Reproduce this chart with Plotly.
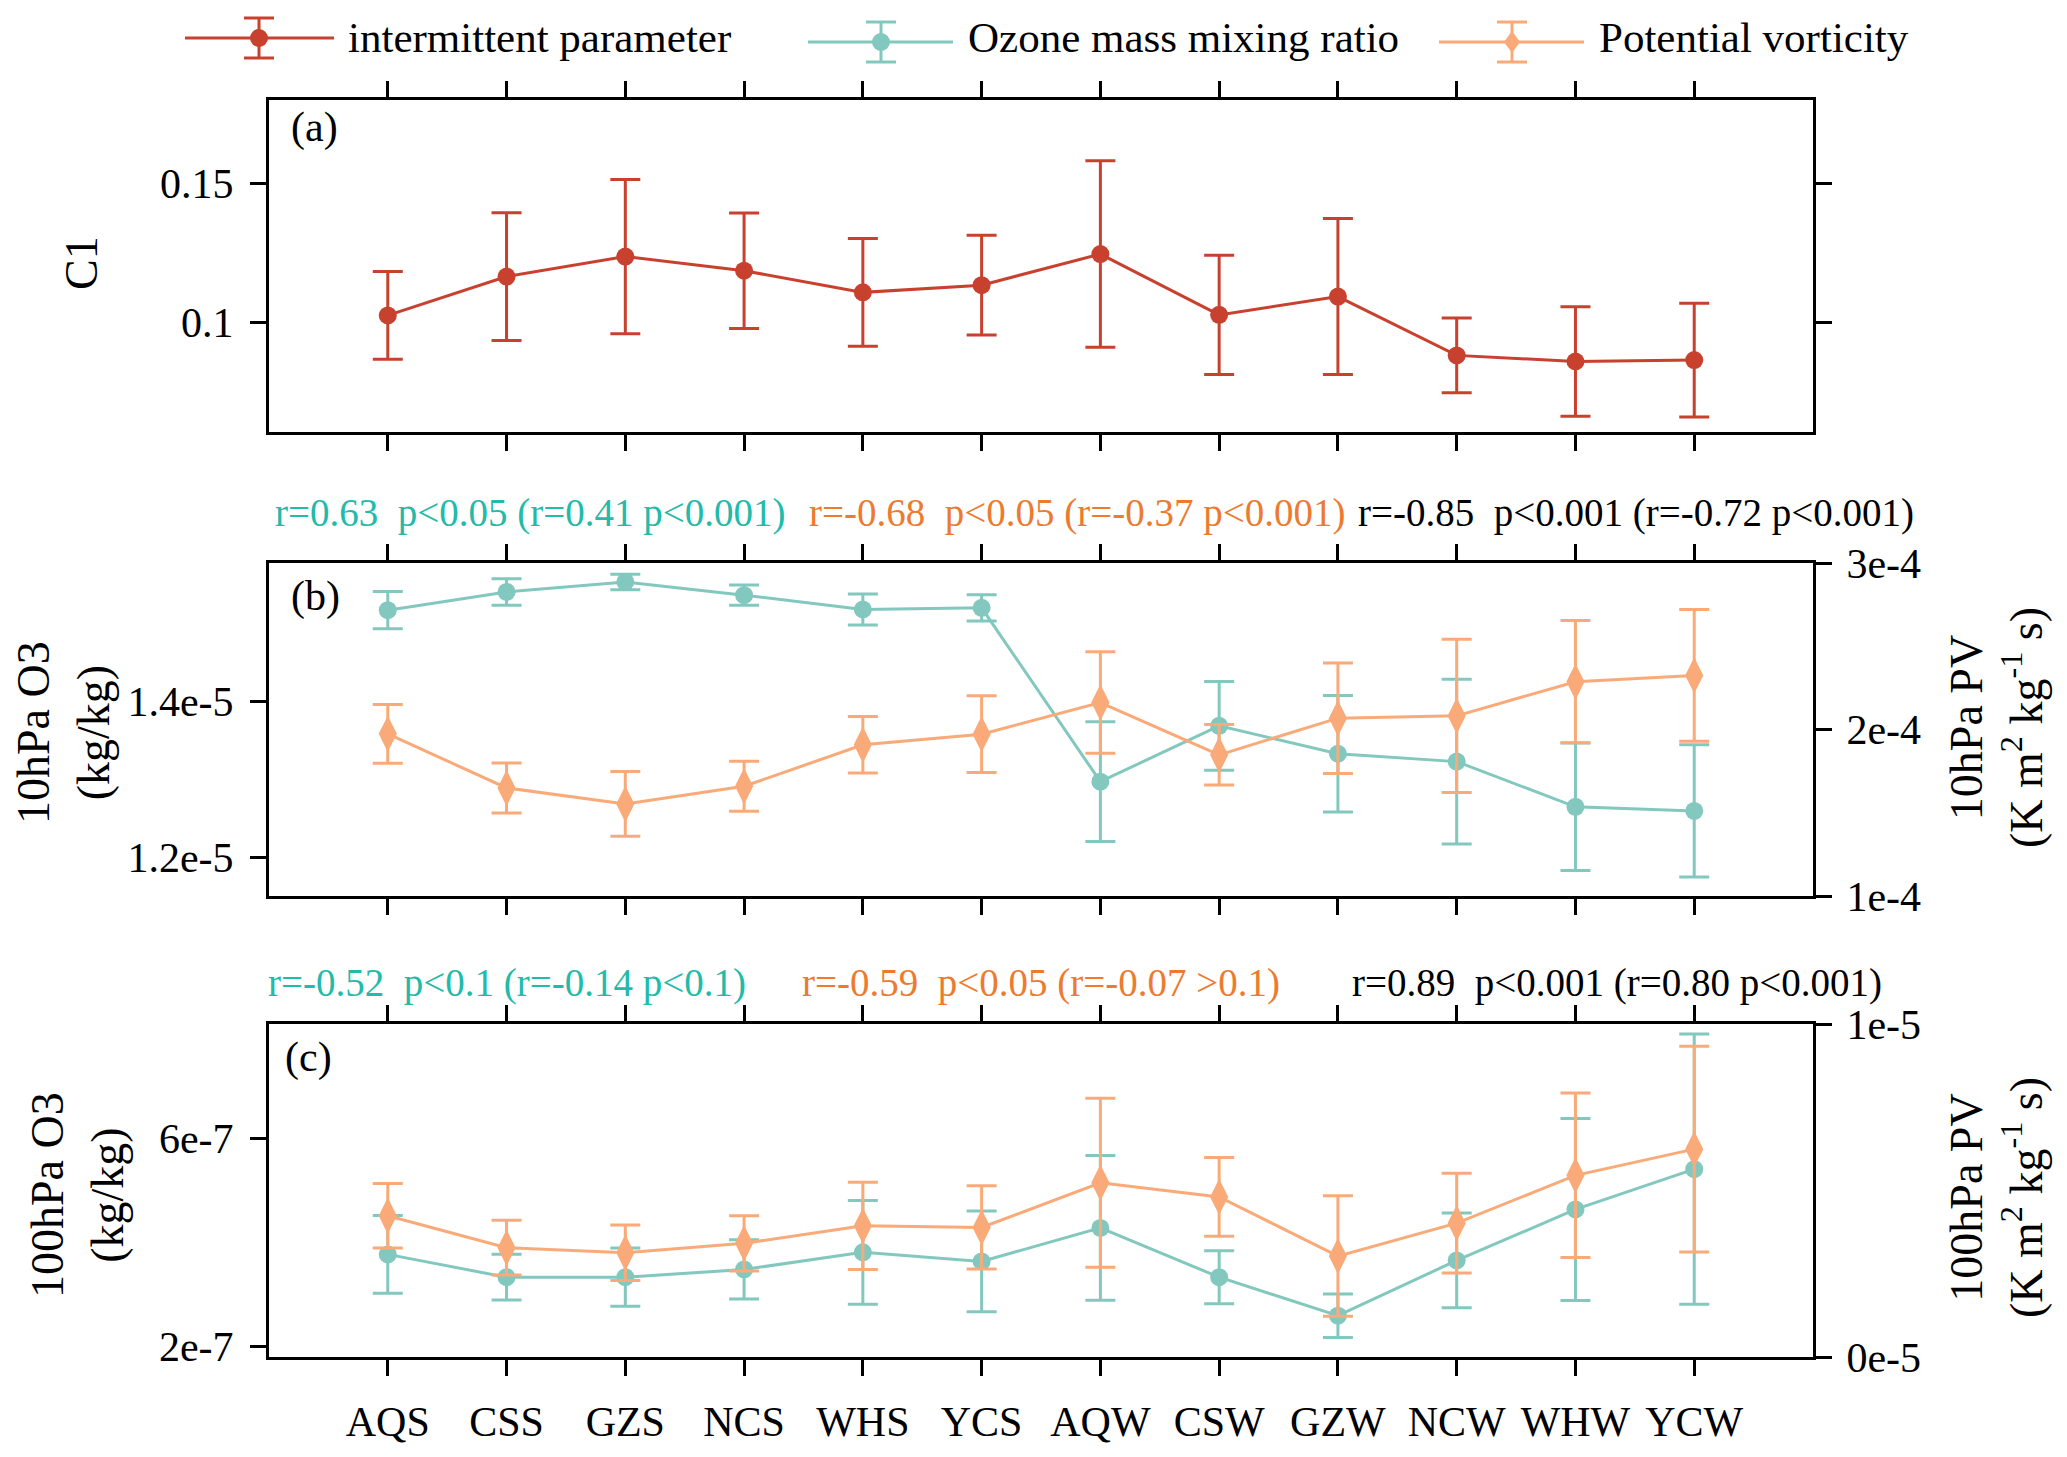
import plotly.graph_objects as go

W, H = 2067, 1457
OFF = 8                      # page body margin offset
FW, FH = W - OFF, H - OFF    # figure size so it fits the window
FONT = "Liberation Serif, Times New Roman, serif"

categories = ["AQS", "CSS", "GZS", "NCS", "WHS", "YCS",
              "AQW", "CSW", "GZW", "NCW", "WHW", "YCW"]

c1_mean = [0.1024, 0.1164, 0.1236, 0.1185, 0.1107, 0.1133,
           0.1245, 0.1026, 0.1092, 0.0880, 0.0858, 0.0863]
c1_err = [0.0158, 0.0230, 0.0278, 0.0208, 0.0194, 0.0180,
          0.0336, 0.0215, 0.0281, 0.0135, 0.0197, 0.0205]

o3_10_mean = [1.5175e-5, 1.5410e-5, 1.5538e-5, 1.5368e-5, 1.5184e-5, 1.5205e-5,
              1.2970e-5, 1.3688e-5, 1.3329e-5, 1.3228e-5, 1.2647e-5, 1.2594e-5]
o3_10_err = [0.24e-6, 0.17e-6, 0.10e-6, 0.13e-6, 0.20e-6, 0.17e-6,
             0.77e-6, 0.57e-6, 0.75e-6, 1.06e-6, 0.82e-6, 0.85e-6]

pv_10_mean = [1.974e-4, 1.649e-4, 1.553e-4, 1.659e-4, 1.908e-4, 1.972e-4,
              2.162e-4, 1.848e-4, 2.068e-4, 2.082e-4, 2.287e-4, 2.325e-4]
pv_10_err = [0.176e-4, 0.150e-4, 0.194e-4, 0.150e-4, 0.170e-4, 0.230e-4,
             0.305e-4, 0.182e-4, 0.332e-4, 0.460e-4, 0.367e-4, 0.396e-4]

o3_100_mean = [3.774e-7, 3.335e-7, 3.335e-7, 3.484e-7, 3.813e-7, 3.639e-7,
               4.284e-7, 3.335e-7, 2.594e-7, 3.658e-7, 4.639e-7, 5.413e-7]
o3_100_err = [0.75e-7, 0.44e-7, 0.56e-7, 0.57e-7, 1.00e-7, 0.97e-7,
              1.39e-7, 0.51e-7, 0.42e-7, 0.91e-7, 1.75e-7, 2.60e-7]

pv_100_mean = [4.242e-6, 3.283e-6, 3.131e-6, 3.414e-6, 3.939e-6, 3.889e-6,
               5.232e-6, 4.808e-6, 3.030e-6, 4.020e-6, 5.455e-6, 6.242e-6]
pv_100_err = [0.965e-6, 0.82e-6, 0.83e-6, 0.83e-6, 1.31e-6, 1.25e-6,
              2.54e-6, 1.18e-6, 1.81e-6, 1.50e-6, 2.47e-6, 3.09e-6]

legend_names = ["intermittent parameter", "Ozone mass mixing ratio", "Potential vorticity"]

corr_b = ["r=0.63&nbsp; p&lt;0.05 (r=0.41 p&lt;0.001)",
          "r=-0.68&nbsp; p&lt;0.05 (r=-0.37 p&lt;0.001)",
          "r=-0.85&nbsp; p&lt;0.001 (r=-0.72 p&lt;0.001)"]
corr_c = ["r=-0.52&nbsp; p&lt;0.1 (r=-0.14 p&lt;0.1)",
          "r=-0.59&nbsp; p&lt;0.05 (r=-0.07 &gt;0.1)",
          "r=0.89&nbsp; p&lt;0.001 (r=0.80 p&lt;0.001)"]

RED = "#C8412F"
TEAL = "#82C8BE"
ORANGE = "#FAAA78"
TXT_TEAL = "#22BBAA"
TXT_ORANGE = "#EC7B30"


def px(x):
    return (x - OFF) / FW


def py(y):
    return 1 - (y - OFF) / FH


fig = go.Figure()


def add_series(x_ax, y_ax, ys, errs, color, symbol, size, name):
    fig.add_trace(go.Scatter(
        x=categories, y=ys, xaxis=x_ax, yaxis=y_ax, name=name,
        mode="lines+markers",
        line=dict(color=color, width=3),
        marker=dict(color=color, symbol=symbol, size=size, line=dict(width=0)),
        error_y=dict(type="data", array=errs, visible=True, color=color,
                     thickness=3, width=15),
        showlegend=False,
    ))


add_series("x", "y", c1_mean, c1_err, RED, "circle", 18, legend_names[0])
add_series("x2", "y2", o3_10_mean, o3_10_err, TEAL, "circle", 18, legend_names[1])
add_series("x2", "y3", pv_10_mean, pv_10_err, ORANGE, "diamond-tall", 26, legend_names[2])
add_series("x3", "y4", o3_100_mean, o3_100_err, TEAL, "circle", 18, legend_names[1])
add_series("x3", "y5", pv_100_mean, pv_100_err, ORANGE, "diamond-tall", 26, legend_names[2])

xdom = [px(269), px(1813)]
dom_a = [py(432), py(100)]
dom_b = [py(896), py(563)]
dom_c = [py(1357), py(1024)]

tickfont = dict(family=FONT, size=42, color="black")
common_x = dict(domain=xdom, type="category", range=[-1, 12],
                showline=True, linecolor="black", linewidth=3,
                ticks="outside", ticklen=16, tickwidth=2.5, tickcolor="black",
                mirror="ticks", showgrid=False, zeroline=False,
                tickfont=tickfont, categoryorder="array", categoryarray=categories)
common_y = dict(showline=True, linecolor="black", linewidth=3,
                ticks="outside", ticklen=16, tickwidth=2.5, tickcolor="black",
                showgrid=False, zeroline=False, tickfont=tickfont)

fig.update_layout(
    width=FW, height=FH,
    margin=dict(l=0, r=0, t=0, b=0, autoexpand=False),
    paper_bgcolor="white", plot_bgcolor="white",
    font=dict(family=FONT, size=42, color="black"),
    showlegend=False,
    xaxis=dict(**common_x, anchor="y", showticklabels=False),
    xaxis2=dict(**common_x, anchor="y2", showticklabels=False),
    xaxis3=dict(**common_x, anchor="y4", showticklabels=True, ticklabelstandoff=10),
    yaxis=dict(**common_y, domain=dom_a, anchor="x", range=[0.0604, 0.18],
               tickvals=[0.1, 0.15], ticktext=["0.1", "0.15"], mirror="ticks",
               ticklabelstandoff=8),
    yaxis2=dict(**common_y, domain=dom_b, anchor="x2", range=[1.15e-5, 1.5782e-5],
                tickvals=[1.2e-5, 1.4e-5], ticktext=["1.2e-5", "1.4e-5"],
                ticklabelstandoff=8),
    yaxis3=dict(**common_y, overlaying="y2", side="right", anchor="x2",
                range=[1e-4, 3e-4], tickvals=[1e-4, 2e-4, 3e-4],
                ticktext=["1e-4", "2e-4", "3e-4"], ticklabelstandoff=6),
    yaxis4=dict(**common_y, domain=dom_c, anchor="x3", range=[1.8e-7, 8.206e-7],
                tickvals=[2e-7, 6e-7], ticktext=["2e-7", "6e-7"],
                ticklabelstandoff=8),
    yaxis5=dict(**common_y, overlaying="y4", side="right", anchor="x3",
                range=[0, 1e-5], tickvals=[0, 1e-5], ticktext=["0e-5", "1e-5"],
                ticklabelstandoff=6),
)

ann = []


def text(x, y, s, size=42, color="black", xanchor="left", angle=0):
    ann.append(dict(x=px(x), y=py(y), xref="paper", yref="paper", text=s,
                    showarrow=False, xanchor=xanchor, yanchor="middle",
                    textangle=angle, font=dict(family=FONT, size=size, color=color)))


# panel labels
text(289, 127, "(a)")
text(289, 596, "(b)")
text(283, 1057, "(c)")

# correlation texts
corr_cols = [TXT_TEAL, TXT_ORANGE, "black"]
for s, x0, c in zip(corr_b, [273, 807, 1356], corr_cols):
    text(x0, 513, s, size=39, color=c)
for s, x0, c in zip(corr_c, [266, 800, 1350], corr_cols):
    text(x0, 983, s, size=39, color=c)

# axis titles
text(81, 263, "C1", size=46, xanchor="center", angle=-90)
text(63, 733, "10hPa O3<br>(kg/kg)", size=46, xanchor="center", angle=-90)
text(77, 1195, "100hPa O3<br>(kg/kg)", size=46, xanchor="center", angle=-90)
text(1996, 728, "10hPa PV<br>(K m<sup>2</sup> kg<sup>-1</sup> s)", size=46,
     xanchor="center", angle=-90)
text(1996, 1198, "100hPa PV<br>(K m<sup>2</sup> kg<sup>-1</sup> s)", size=46,
     xanchor="center", angle=-90)

# legend (drawn as decorations)
shapes = []
legend_items = [
    (185, 334, 259, 38, RED, "circle", 346),
    (808, 953, 881, 42, TEAL, "circle", 966),
    (1439, 1584, 1512, 42, ORANGE, "diamond", 1597),
]
for (x0, x1, xc, yc, col, sym, tx), name in zip(legend_items, legend_names):
    shapes.append(dict(type="line", xref="paper", yref="paper",
                       x0=px(x0), x1=px(x1), y0=py(yc), y1=py(yc),
                       line=dict(color=col, width=3)))
    shapes.append(dict(type="line", xref="paper", yref="paper",
                       x0=px(xc), x1=px(xc), y0=py(yc - 20), y1=py(yc + 20),
                       line=dict(color=col, width=3)))
    for yy in (yc - 20, yc + 20):
        shapes.append(dict(type="line", xref="paper", yref="paper",
                           x0=px(xc - 15), x1=px(xc + 15), y0=py(yy), y1=py(yy),
                           line=dict(color=col, width=3)))
    if sym == "circle":
        shapes.append(dict(type="circle", xref="paper", yref="paper",
                           x0=px(xc - 9), x1=px(xc + 9),
                           y0=py(yc + 9), y1=py(yc - 9),
                           fillcolor=col, line=dict(color=col, width=0)))
    else:
        path = (f"M {px(xc)},{py(yc - 11)} L {px(xc + 8)},{py(yc)} "
                f"L {px(xc)},{py(yc + 11)} L {px(xc - 8)},{py(yc)} Z")
        shapes.append(dict(type="path", xref="paper", yref="paper", path=path,
                           fillcolor=col, line=dict(color=col, width=0)))
    text(tx, 38, name, size=43)

fig.update_layout(annotations=ann, shapes=shapes)

fig.write_html("out.html")
